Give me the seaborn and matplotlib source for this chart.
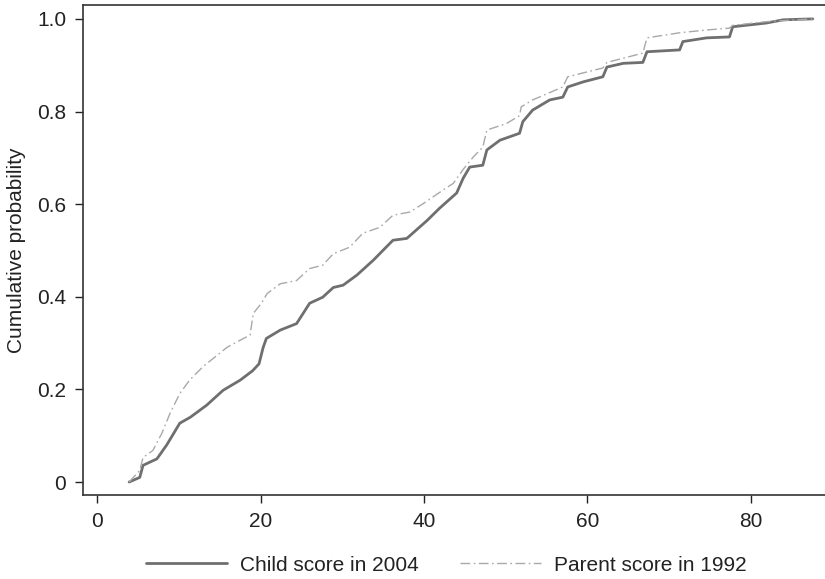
import numpy as np
import matplotlib
matplotlib.use("Agg")
import matplotlib.pyplot as plt
import pandas as pd
import seaborn as sns

# Points (score, cumulative probability)
child_x = [3.9, 5.2, 5.6, 7.3, 8.5, 10.1, 11.4, 13.4, 15.4, 17.5, 19.0, 19.8, 20.3, 20.7,
           22.4, 24.4, 26.0, 27.6, 28.9, 30.1, 31.8, 33.8, 36.2, 37.9, 40.4, 41.9, 44.0,
           44.8, 45.6, 47.2, 47.7, 49.3, 51.7, 52.1, 53.3, 55.4, 57.0, 57.6, 59.5, 61.9,
           62.4, 64.4, 66.8, 67.3, 71.3, 71.7, 74.6, 77.4, 77.8, 81.9, 84.0, 87.6]
child_y = [0.0, 0.01, 0.036, 0.05, 0.08, 0.127, 0.14, 0.166, 0.198, 0.22, 0.24, 0.255, 0.29, 0.31,
           0.328, 0.342, 0.386, 0.399, 0.42, 0.425, 0.447, 0.479, 0.522, 0.526, 0.565, 0.591, 0.624,
           0.656, 0.68, 0.684, 0.717, 0.738, 0.753, 0.778, 0.803, 0.825, 0.831, 0.853, 0.864, 0.875,
           0.896, 0.904, 0.906, 0.929, 0.933, 0.951, 0.959, 0.961, 0.983, 0.991, 0.998, 1.0]

parent_x = [3.9, 5.2, 5.6, 6.8, 7.9, 8.9, 10.1, 11.3, 13.0, 15.9, 17.9, 18.7, 19.1, 20.1,
            20.8, 22.4, 24.4, 26.0, 27.6, 28.9, 30.9, 32.5, 34.6, 36.2, 38.3, 39.9, 42.3,
            43.6, 44.8, 46.0, 47.2, 47.7, 50.1, 51.7, 51.9, 53.3, 57.0, 57.6, 61.9, 62.4,
            66.8, 67.3, 71.3, 74.6, 77.4, 77.8, 81.9, 87.6]
parent_y = [0.0, 0.025, 0.053, 0.068, 0.105, 0.148, 0.191, 0.22, 0.25, 0.291, 0.31, 0.317, 0.364, 0.386,
            0.407, 0.428, 0.435, 0.461, 0.468, 0.493, 0.507, 0.537, 0.55, 0.576, 0.583, 0.601, 0.63,
            0.645, 0.675, 0.701, 0.723, 0.76, 0.774, 0.791, 0.81, 0.825, 0.853, 0.875, 0.894, 0.906,
            0.926, 0.959, 0.97, 0.976, 0.98, 0.986, 0.994, 1.0]

labels = ["Child score in 2004", "Parent score in 1992"]
x_ticks = [0, 20, 40, 60, 80]
y_ticks = [0, 0.2, 0.4, 0.6, 0.8, 1.0]
y_ticklabels = ["0", "0.2", "0.4", "0.6", "0.8", "1.0"]

sns.set_style("ticks")
plt.rcParams["font.family"] = ["Liberation Sans", "DejaVu Sans"]

fig = plt.figure(figsize=(8.25, 5.79), dpi=100)
ax = fig.add_axes([0.1006, 0.1451, 0.8994, 0.8463])

child = pd.DataFrame({"x": child_x, "y": child_y})
parent = pd.DataFrame({"x": parent_x, "y": parent_y})

sns.lineplot(data=child, x="x", y="y", ax=ax, color="#6f6f6f", lw=2.0,
             sort=False, label=labels[0])
sns.lineplot(data=parent, x="x", y="y", ax=ax, color="#a9a9a9", lw=1.0,
             sort=False, label=labels[1], dashes=False)
ax.lines[1].set_dashes([7, 2.5, 1.2, 2.5])

ax.set_xlim(-1.75, 89.1)
ax.set_ylim(-0.028, 1.03)
ax.set_xticks(x_ticks)
ax.set_yticks(y_ticks)
ax.set_yticklabels(y_ticklabels)
ax.set_xlabel("")
ax.set_ylabel("Cumulative probability", fontsize=15, color="#222222", labelpad=8)
ax.tick_params(labelsize=15, colors="#222222", length=6, width=1.0, pad=6)
for s in ["left", "bottom", "top"]:
    ax.spines[s].set_color("#333333")
    ax.spines[s].set_linewidth(1.2)
ax.spines["right"].set_visible(False)

ax.get_legend().remove()
h, l = ax.get_legend_handles_labels()
fig.legend(h, l, loc="center", bbox_to_anchor=(0.541, 0.024), ncol=2, frameon=False,
           fontsize=15, handlelength=3.9, handletextpad=0.6, columnspacing=2.0,
           labelcolor="#222222")

fig.savefig("out.png", dpi=100)
